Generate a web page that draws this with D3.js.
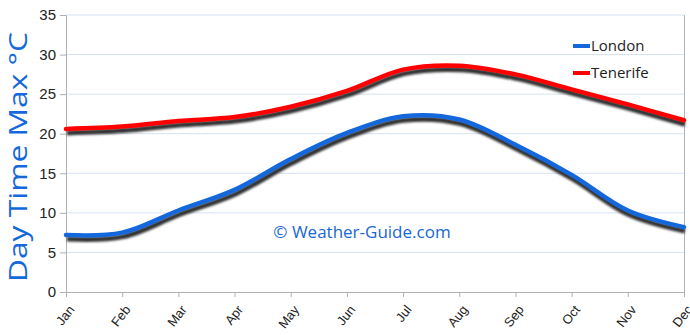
<!DOCTYPE html>
<html>
<head>
<meta charset="utf-8">
<script src="https://cdn.jsdelivr.net/npm/d3@7"></script>
<style>
  body { margin: 0; background: #fff; }
  svg { display: block; font-family: "Comic Sans MS", "Open Sans", sans-serif; }
</style>
</head>
<body>
<script>
// chart data
var months = ["Jan", "Feb", "Mar", "Apr", "May", "Jun", "Jul", "Aug", "Sep", "Oct", "Nov", "Dec"];
var london = [7.2, 7.5, 10.3, 12.9, 16.8, 20.1, 22.2, 21.8, 18.6, 14.8, 10.3, 8.2];
var tenerife = [20.6, 20.9, 21.6, 22.1, 23.4, 25.4, 28.1, 28.6, 27.5, 25.6, 23.7, 21.7];
var yTicks = [0, 5, 10, 15, 20, 25, 30, 35];
var seriesNames = ["London", "Tenerife"];
var seriesColours = ["#1468dc", "#ff0000"];

var width = 690, height = 335;
var margin = {top: 15, right: 6, bottom: 43, left: 66};
var innerW = width - margin.left - margin.right;
var innerH = height - margin.top - margin.bottom;

var svg = d3.select("body").append("svg")
  .attr("width", width)
  .attr("height", height);

var defs = svg.append("defs");
defs.append("filter")
    .attr("id", "shadow")
    .attr("x", "-10%").attr("y", "-50%")
    .attr("width", "120%").attr("height", "200%")
  .append("feGaussianBlur")
    .attr("stdDeviation", 1.3);

var canvas = svg.append("g")
  .attr("transform", "translate(" + margin.left + "," + margin.top + ")");

var x = d3.scalePoint()
  .domain(months)
  .range([0, innerW]);

var y = d3.scaleLinear()
  .domain([0, 35])
  .range([innerH, 0]);

// gridlines
canvas.append("g")
  .selectAll("line")
  .data(yTicks.filter(function(d) { return d > 0; }))
  .enter()
    .append("line")
      .attr("x1", 0)
      .attr("x2", innerW)
      .attr("y1", function(d) { return y(d); })
      .attr("y2", function(d) { return y(d); })
      .attr("stroke", "#d5e2f3")
      .attr("stroke-width", 1);

// right border
canvas.append("line")
  .attr("x1", innerW + 0.5).attr("x2", innerW + 0.5)
  .attr("y1", 0).attr("y2", innerH)
  .attr("stroke", "#b4b4b4");

// y axis
var yAxis = canvas.append("g")
  .attr("class", "y axis")
  .call(d3.axisLeft(y).tickValues(yTicks).tickSize(6).tickPadding(4));

// x axis
var xAxis = canvas.append("g")
  .attr("class", "x axis")
  .attr("transform", "translate(0," + innerH + ")")
  .call(d3.axisBottom(x).tickSize(5).tickPadding(4));

svg.selectAll(".axis path, .axis line").attr("stroke", "#b0b0b0");
yAxis.selectAll("text")
  .attr("font-size", 15)
  .attr("fill", "#222");
// rotated month labels, ending just right of and below each tick
xAxis.selectAll("text")
  .attr("font-size", 13)
  .attr("fill", "#222")
  .attr("text-anchor", "end")
  .attr("x", 0)
  .attr("y", 0)
  .attr("dy", "0.35em")
  .attr("transform", "translate(5,15) rotate(-52)");

// lines
var line = d3.line()
  .x(function(d, i) { return x(months[i]); })
  .y(function(d) { return y(d); })
  .curve(d3.curveCatmullRom.alpha(0.5));

var allSeries = [london, tenerife];

canvas.append("g")
  .selectAll("path")
  .data(allSeries)
  .enter()
    .append("path")
      .attr("d", line)
      .attr("fill", "none")
      .attr("stroke", "#333")
      .attr("stroke-width", 5)
      .attr("transform", "translate(1,4)")
      .attr("filter", "url(#shadow)");

canvas.append("g")
  .selectAll("path")
  .data(allSeries)
  .enter()
    .append("path")
      .attr("d", line)
      .attr("fill", "none")
      .attr("stroke", function(d, i) { return seriesColours[i]; })
      .attr("stroke-width", 4.5)
      .attr("stroke-linecap", "round");

// legend
var legend = svg.append("g")
  .attr("transform", "translate(573,45)");

var items = legend.selectAll("g")
  .data(seriesNames)
  .enter()
    .append("g")
      .attr("transform", function(d, i) { return "translate(0," + (i * 27) + ")"; });

items.append("line")
  .attr("x1", 0).attr("x2", 17)
  .attr("y1", 1).attr("y2", 1)
  .attr("stroke", function(d, i) { return seriesColours[i]; })
  .attr("stroke-width", 4);

items.append("text")
  .attr("x", 18)
  .attr("y", 6)
  .attr("font-size", 15)
  .attr("fill", "#222")
  .text(function(d) { return d; });

// watermark
svg.append("text")
  .attr("x", 362)
  .attr("y", 238)
  .attr("text-anchor", "middle")
  .attr("font-size", 17)
  .attr("fill", "#1a66d4")
  .text("© Weather-Guide.com");

// y axis title
svg.append("text")
  .attr("transform", "translate(27,157) rotate(-90)")
  .attr("text-anchor", "middle")
  .attr("font-size", 25)
  .attr("textLength", 250)
  .attr("lengthAdjust", "spacingAndGlyphs")
  .attr("fill", "#1468dc")
  .text("Day Time Max °C");
</script>
</body>
</html>
